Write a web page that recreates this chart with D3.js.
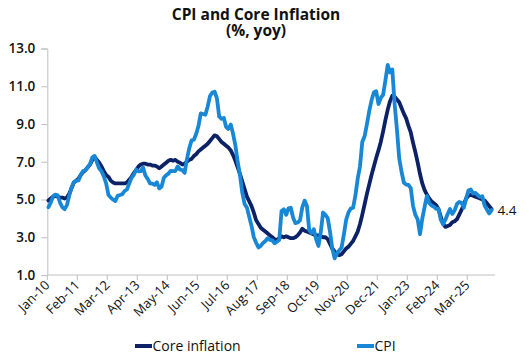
<!DOCTYPE html>
<html>
<head>
<meta charset="utf-8">
<script src="https://cdn.jsdelivr.net/npm/d3@7"></script>
<style>
  html, body { margin: 0; padding: 0; background: #ffffff; }
  svg { display: block; font-family: "Open Sans", "Noto Sans", sans-serif; }
</style>
</head>
<body>
<svg id="chart" width="529" height="361"></svg>
<script>
// ---- data ----
const startMonth = "2010-01";
const categoryCount = 194; // monthly categories on the axis (Jan-10 onwards)
const tickEvery = 13;
const yTicks = [1, 3, 5, 7, 9, 11, 13];
const seriesNames = ["Core inflation", "CPI"];
const seriesColors = ["#0c2166", "#1787d6"];

const cpi = [
  4.59, 4.83, 5.17, 5.26, 5.22, 4.84, 4.60, 4.49, 4.70, 5.20, 5.63, 5.91,
  5.99, 6.01, 6.30, 6.51, 6.55, 6.71, 6.87, 7.23, 7.31, 6.97, 6.64, 6.50,
  6.22, 5.85, 5.24, 5.10, 4.99, 4.92, 5.20, 5.24, 5.28, 5.45, 5.53, 5.84,
  6.15, 6.31, 6.59, 6.49, 6.50, 6.70, 6.27, 6.09, 5.86, 5.84, 5.77, 5.91,
  5.59, 5.68, 6.15, 6.28, 6.37, 6.52, 6.50, 6.51, 6.75, 6.59, 6.56, 6.41,
  7.14, 7.70, 8.13, 8.17, 8.47, 8.89, 9.56, 9.53, 9.49, 9.93, 10.48, 10.67,
  10.71, 10.36, 9.39, 9.28, 9.32, 8.84, 8.74, 8.97, 8.48, 7.87, 6.99, 6.29,
  5.35, 4.76, 4.57, 4.08, 3.60, 3.00, 2.71, 2.46, 2.54, 2.70, 2.80, 2.95,
  2.86, 2.84, 2.68, 2.76, 2.86, 4.39, 4.48, 4.19, 4.53, 4.56, 4.05, 3.75,
  3.78, 3.89, 4.58, 4.94, 4.66, 3.37, 3.22, 3.43, 2.89, 2.54, 3.27, 4.31,
  4.19, 4.01, 3.30, 2.40, 1.88, 2.13, 2.31, 2.44, 3.14, 3.92, 4.31, 4.52,
  4.56, 5.20, 6.10, 6.76, 8.06, 8.35, 8.99, 9.68, 10.25, 10.67, 10.74, 10.06,
  10.38, 10.54, 11.30, 12.13, 11.73, 11.89, 10.07, 8.73, 7.17, 6.47, 5.90, 5.79,
  5.77, 5.60, 4.65, 4.18, 3.94, 3.16, 3.99, 4.61, 5.19, 4.82, 4.68, 4.62,
  4.51, 4.50, 3.93, 3.69, 3.93, 4.23, 4.50, 4.24, 4.42, 4.76, 4.87, 4.83,
  4.56, 5.06, 5.48, 5.53, 5.32, 5.35, 5.23, 5.13, 5.17, 4.68, 4.46, 4.26,
  4.44
];

const core = [
  4.95, 5.05, 5.15, 5.20, 5.15, 5.10, 5.10, 5.05, 5.10, 5.30, 5.60, 5.90,
  6.00, 6.10, 6.30, 6.45, 6.55, 6.70, 6.85, 7.10, 7.25, 7.10, 6.95, 6.75,
  6.50, 6.30, 6.20, 6.00, 5.90, 5.85, 5.85, 5.85, 5.85, 5.85, 5.90, 6.05,
  6.20, 6.40, 6.55, 6.75, 6.85, 6.90, 6.90, 6.85, 6.85, 6.80, 6.80, 6.75,
  6.65, 6.75, 6.85, 6.95, 7.05, 7.10, 7.05, 7.10, 7.00, 6.95, 6.85, 6.90,
  7.00, 7.10, 7.15, 7.30, 7.40, 7.55, 7.65, 7.75, 7.85, 7.95, 8.10, 8.25,
  8.40, 8.35, 8.20, 8.05, 7.95, 7.85, 7.75, 7.60, 7.35, 7.05, 6.70, 6.35,
  5.95, 5.55, 5.15, 4.90, 4.65, 4.30, 3.90, 3.70, 3.50, 3.40, 3.30, 3.20,
  3.10, 3.00, 2.90, 2.85, 2.95, 3.05, 3.00, 3.05, 3.00, 2.95, 2.95, 3.00,
  3.10, 3.25, 3.45, 3.35, 3.30, 3.25, 3.20, 3.15, 3.10, 3.10, 3.05, 3.00,
  3.00, 2.90, 2.65, 2.40, 2.25, 2.10, 2.05, 2.10, 2.25, 2.40, 2.50, 2.65,
  2.80, 3.05, 3.30, 3.70, 4.20, 4.75, 5.30, 5.80, 6.30, 6.75, 7.20, 7.60,
  8.05, 8.60, 9.20, 9.75, 10.20, 10.50, 10.45, 10.30, 10.15, 9.85, 9.55, 9.30,
  8.90, 8.55, 8.00, 7.50, 6.95, 6.35, 5.85, 5.50, 5.25, 5.05, 4.90, 4.80,
  4.70, 4.50, 4.10, 3.70, 3.55, 3.60, 3.65, 3.80, 3.85, 3.95, 4.20, 4.45,
  4.75, 5.05, 5.20, 5.25, 5.20, 5.15, 5.10, 5.05, 5.00, 4.95, 4.80, 4.65,
  4.50
];

const lastLabel = "4.4";
const titleLines = ["CPI and Core Inflation", "(%, yoy)"];

// ---- layout ----
const svg = d3.select("#chart");
const plot = { left: 47.3, right: 495, top: 48.5, bottom: 275 };

const parseMonth = d3.timeParse("%Y-%m");
const fmtMonth = d3.timeFormat("%b-%y");
const start = parseMonth(startMonth);
const months = d3.range(categoryCount).map(i => d3.timeMonth.offset(start, i));

const x = d3.scaleBand()
  .domain(d3.range(categoryCount))
  .range([plot.left, plot.right])
  .paddingInner(0).paddingOuter(0);
const bw = x.bandwidth();
const cx = i => x(i) + bw / 2;

const y = d3.scaleLinear().domain([1, 13]).range([plot.bottom, plot.top]);

// title (one text element, two lines)
const title = svg.append("text").attr("text-anchor", "middle")
  .attr("font-size", 15.5).attr("font-weight", 700).attr("fill", "#111");
titleLines.forEach((t, i) => {
  title.append("tspan").attr("x", 256).attr("y", 20 + i * 15.5).text(t);
});

// y axis
const yAxis = d3.axisLeft(y).tickValues(yTicks).tickFormat(d3.format(".1f")).tickSize(6).tickPadding(6);
const gy = svg.append("g").attr("transform", `translate(${plot.left},0)`).call(yAxis);
gy.select(".domain").attr("stroke", "#bfbfbf");
gy.selectAll(".tick line").attr("stroke", "#bfbfbf");
gy.selectAll(".tick text").attr("font-size", 13.5).attr("font-weight", 600)
  .attr("fill", "#111").attr("font-family", "'Open Sans', 'Noto Sans', sans-serif");

// x axis: ticks at category boundaries every 13 categories
const tickIdx = d3.range(0, categoryCount, tickEvery);
const gx = svg.append("g");
gx.append("line")
  .attr("x1", plot.left).attr("x2", plot.right)
  .attr("y1", plot.bottom).attr("y2", plot.bottom)
  .attr("stroke", "#bfbfbf");
gx.selectAll("line.tk").data(tickIdx).join("line").attr("class", "tk")
  .attr("x1", d => x(d)).attr("x2", d => x(d))
  .attr("y1", plot.bottom).attr("y2", plot.bottom + 5)
  .attr("stroke", "#bfbfbf");
gx.selectAll("text.lbl").data(tickIdx.filter(i => i < cpi.length)).join("text").attr("class", "lbl")
  .attr("transform", d => `translate(${cx(d) + 2},${plot.bottom + 11}) rotate(-45)`)
  .attr("text-anchor", "end").attr("font-size", 13).attr("fill", "#111")
  .text(d => fmtMonth(months[d]));

// lines
const line = d3.line().x((d, i) => cx(i)).y(d => y(d)).curve(d3.curveLinear);
[core, cpi].forEach((s, k) => {
  svg.append("path").datum(s)
    .attr("fill", "none").attr("stroke", seriesColors[k])
    .attr("stroke-width", 3.8).attr("stroke-linejoin", "round").attr("stroke-linecap", "round")
    .attr("d", line);
});

// end label
svg.append("text").attr("x", cx(cpi.length - 1) + 6).attr("y", y(cpi[cpi.length - 1]) + 5)
  .attr("font-size", 13.5).attr("fill", "#111").text(lastLabel);

// legend
const legendX = [135, 357];
seriesNames.forEach((n, k) => {
  const g = svg.append("g").attr("transform", `translate(${legendX[k]},346)`);
  g.append("line").attr("x1", 0).attr("x2", 17).attr("y1", 0).attr("y2", 0)
    .attr("stroke", seriesColors[k]).attr("stroke-width", 4);
  g.append("text").attr("x", 17.5).attr("y", 5).attr("font-size", 14)
    .attr("fill", "#111").text(n);
});
</script>
</body>
</html>
